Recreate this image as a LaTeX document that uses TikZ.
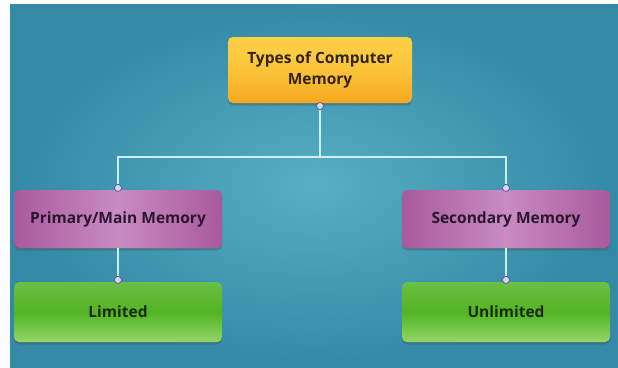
\documentclass[tikz,border=0pt]{standalone}
\usepackage{fontspec}
\setmainfont{Open Sans}
\usetikzlibrary{shadows}
\definecolor{bgin}{HTML}{58AFC3}
\definecolor{bgout}{HTML}{3489A6}
\definecolor{orA}{HTML}{FDD046}
\definecolor{orB}{HTML}{F5A820}
\definecolor{puA}{HTML}{A95A9D}
\definecolor{puB}{HTML}{C98BC2}
\definecolor{grA}{HTML}{52B424}
\definecolor{grB}{HTML}{93D668}
\definecolor{linec}{HTML}{CDEFFA}
\definecolor{dotc}{HTML}{E8D0E8}
\definecolor{dotb}{HTML}{3A5FA8}
\definecolor{txtp}{HTML}{2A1630}
\definecolor{txtg}{HTML}{1C2A12}
\definecolor{txto}{HTML}{33240C}
\tikzset{
  box/.style={rounded corners=5pt, inner sep=0pt, align=center,
    font=\bfseries\fontsize{15.5}{21.5}\selectfont,
    drop shadow={shadow xshift=0pt, shadow yshift=-2.5pt, opacity=0.35, fill=black!70}},
  topbox/.style={box, minimum width=184pt, minimum height=66pt,
    top color=orA, bottom color=orB, middle color=orA!70!orB, text=txto},
  purbox/.style={box, minimum width=208pt, minimum height=58pt,
    left color=puA, right color=puA, middle color=puB, text=txtp},
  grnbox/.style={box, minimum width=208pt, minimum height=60pt,
    top color=grA!85!white, bottom color=grB, middle color=grA, text=txtg},
  conn/.style={draw=linec, line width=1.3pt},
  dotn/.style={circle, draw=dotb, fill=dotc, line width=0.7pt, inner sep=0pt, minimum size=7pt}
}
\begin{document}
\begin{tikzpicture}[x=1pt,y=-1pt]
\useasboundingbox (0,0) rectangle (618,367);
\fill[white] (0,0) rectangle (618,367);
\shade[inner color=bgin, outer color=bgout] (10,4) rectangle (618,367);

\node[topbox] (top) at (320,70) {Types of Computer\\Memory};
\node[purbox] (lp) at (118,219) {Primary/Main Memory};
\node[purbox] (rp) at (506,219) {Secondary Memory};
\node[grnbox] (lg) at (118,312) {Limited};
\node[grnbox] (rg) at (506,312) {Unlimited};

\node[dotn, anchor=north] (dt) at ([yshift=1pt]top.south) {};
\node[dotn, anchor=south] (dl) at ([yshift=-2pt]lp.north) {};
\node[dotn, anchor=south] (dr) at ([yshift=-2pt]rp.north) {};
\node[dotn, anchor=south] (dlg) at ([yshift=-2pt]lg.north) {};
\node[dotn, anchor=south] (drg) at ([yshift=-2pt]rg.north) {};

\coordinate (junc) at (320,157);
\draw[conn] (dt.south) -- (junc);
\draw[conn] (junc) -| (dl.north);
\draw[conn] (junc) -| (dr.north);
\draw[conn] (lp.south) -- (dlg.north);
\draw[conn] (rp.south) -- (drg.north);
\end{tikzpicture}
\end{document}
